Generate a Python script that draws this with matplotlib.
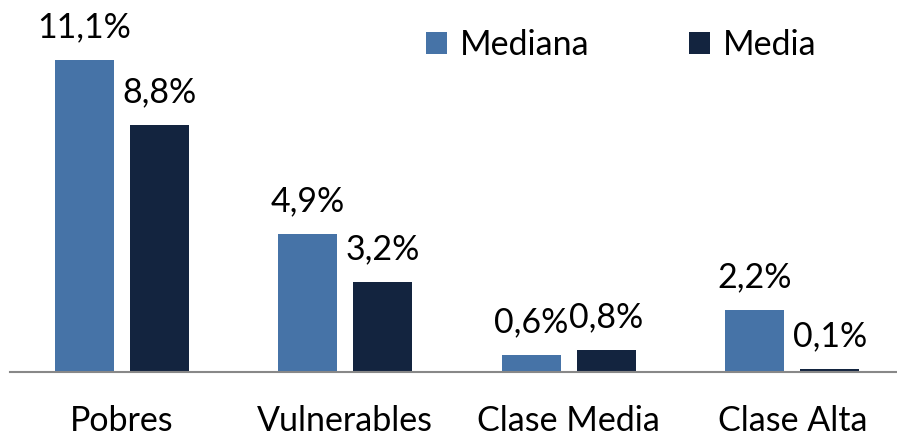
import matplotlib
matplotlib.use("Agg")
import matplotlib.pyplot as plt
import numpy as np

categories = ["Pobres", "Vulnerables", "Clase Media", "Clase Alta"]
mediana = [11.1, 4.9, 0.6, 2.2]
media = [8.8, 3.2, 0.8, 0.1]
series_names = ["Mediana", "Media"]
colors = ["#4673A7", "#13243F"]

plt.rcParams['font.family'] = ['Lato', 'DejaVu Sans']

W, H = 897, 436
fig = plt.figure(figsize=(W/100, H/100), dpi=100)
ax = fig.add_axes([10/W, 64/H, 894/W, 351/H])

x = np.arange(len(categories))
bw = 0.264
off = 0.168
b1 = ax.bar(x - off, mediana, bw, color=colors[0], label=series_names[0])
b2 = ax.bar(x + off, media, bw, color=colors[1], label=series_names[1])

FS = 24.5

def fmt(v):
    return f"{v:.1f}".replace(".", ",") + "%"

for bars, vals in ((b1, mediana), (b2, media)):
    for r, v in zip(bars, vals):
        ax.annotate(fmt(v), (r.get_x() + r.get_width()/2, v), xytext=(0, 12),
                    textcoords="offset points", ha="center", va="bottom",
                    fontsize=FS, color="black")

ax.set_xlim(-0.5, 3.5)
ax.set_ylim(0, 12.5)
ax.set_xticks(x)
ax.set_xticklabels(categories, fontsize=FS)
ax.tick_params(axis='x', length=0, pad=24)
ax.set_yticks([])
for s in ["top", "right", "left"]:
    ax.spines[s].set_visible(False)
ax.spines["bottom"].set_color("#888888")
ax.spines["bottom"].set_linewidth(1.5)

leg = ax.legend(loc="upper left", bbox_to_anchor=(402/894, 1.0 + 6/351), ncol=2,
                frameon=False, fontsize=FS, handlelength=0.62, handleheight=0.62,
                handletextpad=0.4, columnspacing=2.9, borderaxespad=0)
plt.savefig("out.png", dpi=100)
